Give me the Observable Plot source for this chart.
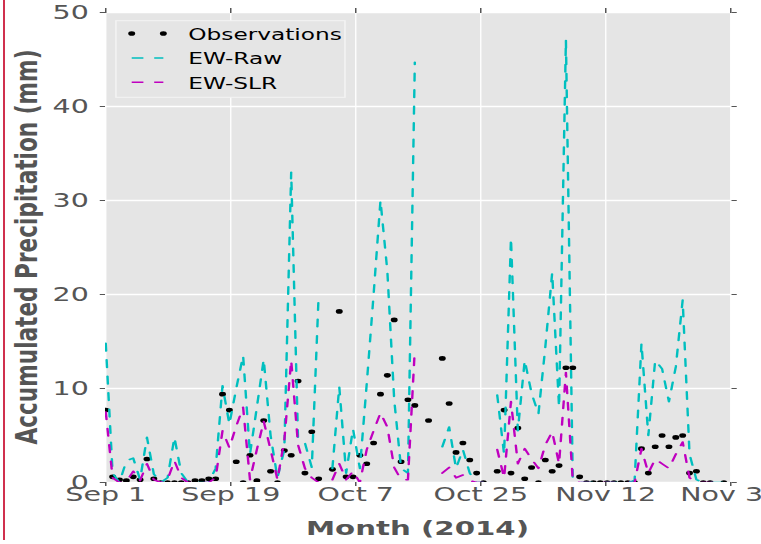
<!DOCTYPE html>
<html><head><meta charset="utf-8">
<script src="https://cdn.jsdelivr.net/npm/d3@7"></script>
<script src="https://cdn.jsdelivr.net/npm/@observablehq/plot@0.6"></script>
<style>
html,body{margin:0;padding:0;background:#fff;overflow:hidden}
#wrap{position:relative;width:761px;height:544px;overflow:hidden}
#redline{position:absolute;left:3px;top:0;width:2px;height:540px;background:#d0304e}
</style></head><body><div id="wrap"><div id="chart"></div><div id="redline"></div></div>
<script>
// day index 0 = Sep 1, 2014
const days = d3.range(91);
const obs = [7.7,0.6,0.3,0.2,0.6,0.3,2.5,0.4,0,0,
  0,0,0,0.2,0.2,0.4,0.4,9.4,7.7,2.2,
  0,2.9,0.2,6.6,1.2,0,3.4,2.9,10.8,1.0,
  5.4,0.4,null,1.4,18.2,0.6,0.6,2.9,2.0,4.2,
  9.4,11.4,17.3,2.2,8.8,8.2,null,6.6,null,13.2,
  8.4,3.2,4.2,2.4,1.0,0,null,1.2,7.7,1.0,
  5.8,0.4,1.6,0,2.4,1.2,1.8,12.2,12.2,0.6,
  0,0,0,0,0,0,0,0,3.6,1.0,
  3.8,5.0,3.8,4.8,5.0,1.0,1.2,0,0,null,0];
const ewRaw = [14.8,1.0,0,2.3,2.6,0.3,4.8,0.9,0,0.5,
  4.8,1.0,0,0,0,0,1.5,10.3,6.2,10.0,
  13.5,3.0,8.0,13.1,5.0,0.5,3.5,33.0,4.5,4.2,
  1.6,20.0,null,1.5,10.2,1.0,5.7,1.5,10.5,20.0,
  30.0,22.5,8.8,1.5,1.0,44.7,null,null,null,3.8,
  5.9,1.5,3.5,1.0,0,0,null,9.3,3.0,26.0,
  5.5,13.0,9.5,7.3,14.4,22.3,8.0,47.1,0.3,0,
  0,0,0,0,0,0,0,0.2,14.8,5.0,
  13.0,12.1,8.6,12.3,19.4,3.0,0.3,0,0,0,0];
const ewSlr = [7.5,0.5,0,0.1,1.2,0.2,2.0,0.3,0,0.3,
  2.3,0.5,0,0,0,0,0.5,5.5,3.7,6.0,
  8.0,0.3,3.5,6.5,3.5,0.3,4.5,13.0,4.0,1.5,
  0.5,0,null,0.3,2.0,0.3,1.2,0,3.5,5.5,
  7.4,5.9,1.6,0.3,0.3,14.2,null,null,null,1.0,
  1.6,0.5,0.8,0.2,0,0,null,3.5,0.5,8.6,
  2.0,3.6,2.5,1.5,4.0,5.4,2.0,11.7,0.2,0,
  0,0,0,0,0,0,0,0,3.6,1.0,
  2.5,2.0,1.5,3.0,4.3,0.5,0,0,0,0,0];
const xTickValues = [0, 18.2, 36.4, 54.6, 72.8, 91];
const xTickLabels = ["Sep 1","Sep 19","Oct 7","Oct 25","Nov 12","Nov 30"];
const yTickValues = [0,10,20,30,40,50];
const seriesNames = ["Observations","EW-Raw","EW-SLR"];
const seriesColors = ["#000000","#00BFBF","#BF00BF"];
const xLabel = "Month (2014)";
const yLabel = "Accumulated Precipitation (mm)";

// the reference image is stretched horizontally; draw narrow, then stretch
const S = 1.5, W = 761, H = 544;
const W0 = W / S;
const mL = 105 / S, mR = (W - 730) / S, mT = 12, mB = H - 482;

const rows = days.map((d, i) => ({day: d, obs: obs[i], raw: ewRaw[i], slr: ewSlr[i]}));
const obsRows = rows.filter(r => r.obs != null);
const dash = "7.5,9";

const plot = Plot.plot({
  width: W0, height: H,
  marginLeft: mL, marginRight: mR, marginTop: mT, marginBottom: mB,
  style: {background: "transparent", fontFamily: "DejaVu Sans", fontSize: "19px", color: "#555555"},
  x: {domain: [0, 91]},
  y: {domain: [0, 50]},
  marks: [
    Plot.frame({fill: "#E5E5E5", stroke: null}),
    Plot.gridX(xTickValues, {stroke: "#ffffff", strokeOpacity: 1, strokeWidth: 0.9}),
    Plot.gridY(yTickValues, {stroke: "#ffffff", strokeOpacity: 1, strokeWidth: 1.3}),
    Plot.dot(obsRows, {x: "day", y: "obs", r: 2.3, fill: seriesColors[0], stroke: null, clip: true}),
    Plot.lineY(rows, {x: "day", y: "raw", stroke: seriesColors[1], strokeWidth: 1.6, strokeDasharray: dash, clip: true}),
    Plot.lineY(rows, {x: "day", y: "slr", stroke: seriesColors[2], strokeWidth: 1.6, strokeDasharray: dash, clip: true}),
    Plot.axisX(xTickValues, {anchor: "bottom", tickSize: 4, tickPadding: 1, stroke: "#555555",
      tickFormat: (d, i) => xTickLabels[i], label: null, fontSize: 19, fill: "#555555"}),
    Plot.axisX(xTickValues, {anchor: "top", tickSize: 5, stroke: "#555555", tickFormat: () => "", label: null}),
    Plot.axisY(yTickValues, {anchor: "left", tickSize: 3.5, tickPadding: 7.8, stroke: "#555555",
      tickFormat: d => String(d), label: null, fontSize: 19, fill: "#555555"}),
    Plot.axisY(yTickValues, {anchor: "right", tickSize: 3.5, stroke: "#555555", tickFormat: () => "", label: null})
  ]
});

const svg = d3.select(plot);
// axis titles
svg.append("text").text(xLabel)
  .attr("x", (mL + (W0 - mR)) / 2).attr("y", 535)
  .attr("text-anchor", "middle").attr("font-family", "DejaVu Sans")
  .attr("font-weight", "bold").attr("font-size", 19.5).attr("fill", "#555555");
svg.append("text").text(yLabel)
  .attr("transform", `translate(24.5,${(mT + (H - mB)) / 2}) rotate(-90)`)
  .attr("text-anchor", "middle").attr("font-family", "DejaVu Sans")
  .attr("font-weight", "bold").attr("font-size", 19.5).attr("fill", "#555555")
  .attr("textLength", 395).attr("lengthAdjust", "spacingAndGlyphs");

// legend
const lg = svg.append("g").attr("font-family", "DejaVu Sans").attr("font-size", 15.5)
  .attr("text-anchor", "start");
lg.append("rect").attr("x", 77.3).attr("y", 20.7).attr("width", 152.7).attr("height", 76.6)
  .attr("fill", "#E5E5E5").attr("stroke", "#f4f4f4").attr("stroke-width", 1);
const rowY = [33.5, 58, 82.3];
seriesNames.forEach((name, i) => {
  const y = rowY[i];
  if (i === 0) {
    [87.8, 108.9].forEach(cx => lg.append("circle").attr("cx", cx).attr("cy", y).attr("r", 2.3).attr("fill", seriesColors[0]));
  } else {
    lg.append("line").attr("x1", 87.8).attr("x2", 108.9).attr("y1", y).attr("y2", y)
      .attr("stroke", seriesColors[i]).attr("stroke-width", 1.6).attr("stroke-dasharray", "7.8,7.2");
  }
  lg.append("text").text(name).attr("x", 125.5).attr("y", y + 6.3)
    .attr("text-anchor", "start").attr("fill", "#000");
});

plot.setAttribute("width", W);
plot.setAttribute("height", H);
plot.setAttribute("viewBox", `0 0 ${W0} ${H}`);
plot.setAttribute("preserveAspectRatio", "none");
plot.style.width = W + "px";
plot.style.height = H + "px";
plot.style.maxWidth = "none";
document.getElementById("chart").appendChild(plot);
</script></body></html>
